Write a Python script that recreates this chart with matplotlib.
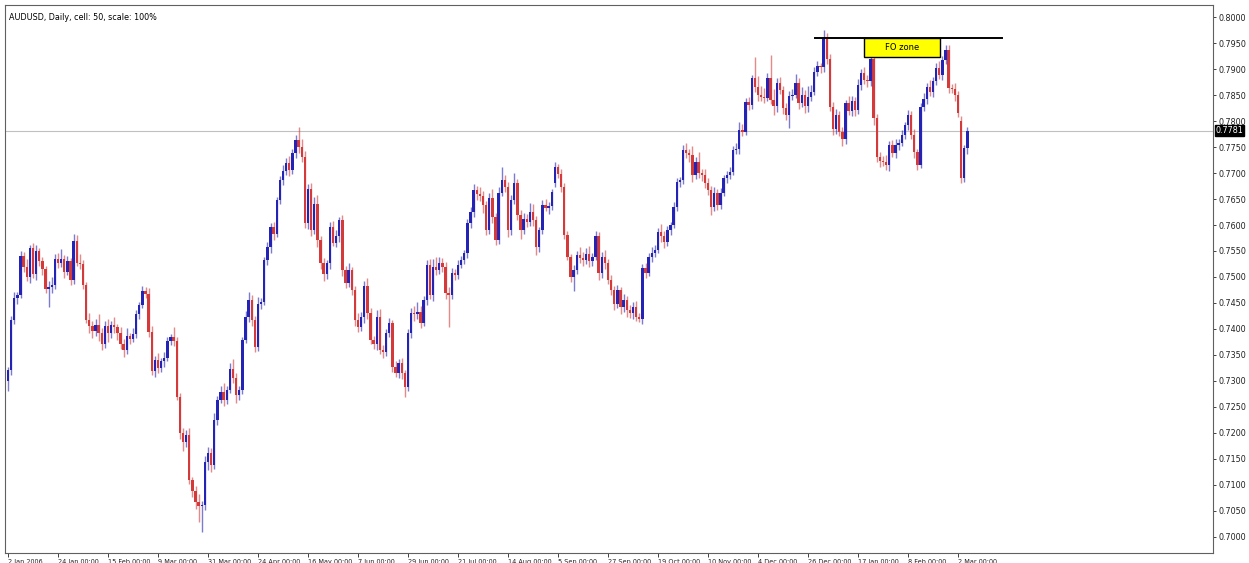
import numpy as np
import matplotlib
matplotlib.use("Agg")
import matplotlib.pyplot as plt
import matplotlib.transforms as mtransforms
from matplotlib.patches import Rectangle

# ---------------- data (AUDUSD daily, prices in pips x 1e-4) ----------------
closes = [
    7321, 7417, 7460, 7465, 7540, 7520, 7500, 7555, 7505, 7550, 7530, 7515, 7477, 7480, 7485, 7535,
    7527, 7535, 7510, 7530, 7495, 7570, 7527, 7525, 7485, 7417, 7405, 7397, 7408, 7393, 7372, 7406,
    7393, 7408, 7404, 7393, 7372, 7359, 7387, 7381, 7390, 7429, 7446, 7473, 7467, 7395, 7320, 7340,
    7325, 7338, 7345, 7377, 7385, 7377, 7270, 7200, 7183, 7197, 7110, 7088, 7068, 7059, 7062, 7145,
    7161, 7139, 7225, 7263, 7279, 7263, 7283, 7324, 7305, 7273, 7283, 7379, 7424, 7456, 7417, 7366,
    7449, 7452, 7532, 7557, 7596, 7583, 7648, 7687, 7703, 7719, 7706, 7738, 7763, 7750, 7731, 7603,
    7670, 7590, 7641, 7571, 7526, 7505, 7526, 7597, 7565, 7578, 7610, 7514, 7488, 7514, 7475, 7417,
    7404, 7424, 7482, 7430, 7379, 7372, 7424, 7359, 7355, 7392, 7411, 7327, 7315, 7334, 7315, 7289,
    7392, 7430, 7428, 7433, 7411, 7456, 7523, 7465, 7520, 7514, 7526, 7520, 7469, 7466, 7507, 7504,
    7523, 7533, 7546, 7603, 7625, 7667, 7660, 7655, 7638, 7590, 7651, 7616, 7571, 7661, 7687, 7674,
    7590, 7648, 7680, 7619, 7590, 7612, 7606, 7625, 7609, 7558, 7590, 7638, 7632, 7637, 7664, 7712,
    7699, 7674, 7581, 7539, 7500, 7513, 7542, 7536, 7533, 7545, 7530, 7539, 7578, 7507, 7539, 7526,
    7494, 7475, 7449, 7475, 7443, 7456, 7436, 7430, 7443, 7424, 7420, 7517, 7507, 7539, 7546, 7552,
    7587, 7578, 7568, 7591, 7600, 7635, 7683, 7686, 7744, 7738, 7734, 7696, 7721, 7700, 7696, 7680,
    7667, 7635, 7661, 7638, 7661, 7690, 7696, 7702, 7744, 7747, 7782, 7779, 7837, 7831, 7882, 7866,
    7850, 7847, 7844, 7882, 7840, 7828, 7873, 7860, 7825, 7811, 7849, 7850, 7873, 7834, 7850, 7828,
    7847, 7856, 7895, 7905, 7903, 7959, 7920, 7827, 7785, 7811, 7779, 7766, 7834, 7820, 7838, 7821,
    7870, 7892, 7879, 7876, 7920, 7805, 7731, 7724, 7722, 7715, 7753, 7739, 7753, 7757, 7773, 7792,
    7811, 7773, 7740, 7715, 7827, 7843, 7866, 7856, 7876, 7901, 7889, 7917, 7937, 7863, 7862, 7850,
    7815, 7690, 7748, 7781,
]
first_open = 7300
gap_opens = {175: 7680, 305: 7800}

# upper / lower wick beyond the body, in pips
hi_ext = [
    5, 8, 12, 6, 10, 8, 15, 6, 10, 12, 5, 8, 6, 12, 15, 10,
    12, 18, 8, 10, 6, 12, 10, 18, 8, 6, 14, 10, 12, 20, 8, 10,
    14, 8, 16, 6, 10, 8, 14, 6, 12, 8, 6, 10, 8, 12, 10, 8,
    14, 6, 10, 8, 6, 18, 8, 6, 10, 8, 12, 6, 10, 14, 8, 10,
    12, 10, 14, 8, 12, 18, 8, 10, 18, 10, 8, 6, 10, 16, 10, 8,
    12, 8, 6, 10, 8, 10, 6, 8, 12, 10, 14, 8, 10, 26, 16, 12,
    8, 10, 12, 16, 8, 10, 6, 8, 10, 12, 6, 10, 8, 12, 6, 8,
    14, 8, 10, 16, 10, 8, 12, 14, 10, 8, 10, 6, 12, 8, 10, 6,
    8, 10, 14, 18, 12, 8, 10, 12, 14, 18, 12, 10, 8, 12, 10, 8,
    10, 8, 6, 8, 10, 12, 8, 14, 10, 8, 10, 18, 8, 12, 25, 10,
    8, 10, 20, 8, 10, 12, 10, 18, 16, 8, 6, 10, 12, 8, 6, 10,
    6, 8, 6, 8, 6, 10, 8, 16, 12, 10, 14, 8, 10, 8, 10, 12,
    8, 10, 8, 10, 6, 12, 8, 10, 8, 10, 6, 8, 10, 8, 12, 10,
    8, 14, 10, 8, 6, 10, 8, 6, 10, 14, 8, 18, 10, 20, 8, 12,
    10, 8, 12, 8, 10, 6, 8, 10, 8, 10, 16, 12, 8, 10, 6, 42,
    20, 18, 16, 10, 45, 22, 10, 12, 8, 10, 8, 12, 18, 10, 16, 10,
    20, 14, 8, 10, 6, 16, 10, 8, 10, 12, 8, 10, 6, 14, 10, 8,
    10, 8, 12, 10, 8, 6, 8, 10, 8, 12, 8, 10, 12, 8, 10, 6,
    10, 8, 12, 6, 8, 10, 8, 12, 8, 10, 14, 8, 9, 10, 8, 12,
    8, 10, 6, 8,
]
lo_ext = [
    20, 10, 8, 12, 6, 10, 8, 12, 6, 10, 8, 12, 8, 35, 10, 8,
    10, 8, 12, 6, 10, 8, 6, 10, 8, 6, 12, 14, 10, 16, 12, 8,
    18, 10, 12, 14, 10, 12, 8, 10, 6, 8, 10, 6, 8, 10, 8, 12,
    10, 8, 12, 6, 8, 10, 6, 12, 18, 10, 8, 12, 14, 30, 49, 10,
    16, 14, 8, 10, 6, 12, 8, 6, 8, 16, 10, 8, 6, 10, 12, 10,
    8, 10, 6, 8, 10, 12, 6, 8, 10, 6, 12, 8, 10, 12, 10, 8,
    10, 12, 8, 14, 10, 12, 8, 10, 6, 8, 10, 12, 10, 8, 10, 12,
    10, 8, 12, 10, 8, 10, 12, 8, 10, 6, 8, 10, 8, 10, 12, 19,
    8, 10, 12, 8, 10, 6, 10, 8, 12, 10, 8, 10, 12, 62, 8, 10,
    8, 6, 8, 10, 8, 10, 12, 8, 14, 10, 8, 12, 10, 8, 6, 10,
    14, 10, 8, 10, 16, 8, 10, 8, 10, 16, 10, 8, 6, 10, 8, 6,
    8, 10, 8, 6, 10, 26, 8, 10, 12, 8, 10, 8, 6, 12, 8, 10,
    8, 10, 12, 8, 14, 10, 12, 8, 10, 8, 6, 10, 8, 6, 10, 8,
    6, 10, 12, 8, 10, 6, 8, 10, 8, 10, 12, 14, 8, 10, 12, 8,
    10, 16, 8, 10, 8, 6, 10, 8, 6, 8, 10, 8, 6, 10, 8, 10,
    12, 8, 10, 6, 8, 16, 10, 8, 12, 10, 25, 8, 6, 10, 8, 12,
    10, 8, 6, 8, 10, 8, 10, 8, 12, 10, 8, 14, 10, 8, 10, 12,
    8, 10, 8, 10, 8, 12, 10, 12, 8, 10, 12, 8, 10, 8, 6, 8,
    10, 8, 12, 10, 6, 8, 10, 8, 10, 6, 8, 10, 8, 10, 8, 12,
    8, 10, 8, 12,
]

date_labels = ["2 Jan 2006", "24 Jan 00:00", "15 Feb 00:00", "9 Mar 00:00", "31 Mar 00:00",
               "24 Apr 00:00", "16 May 00:00", "7 Jun 00:00", "29 Jun 00:00", "21 Jul 00:00",
               "14 Aug 00:00", "5 Sep 00:00", "27 Sep 00:00", "19 Oct 00:00", "10 Nov 00:00",
               "4 Dec 00:00", "26 Dec 00:00", "17 Jan 00:00", "8 Feb 00:00", "2 Mar 00:00"]
label_step = 16

last_price = 0.7781
fo_level = 0.7960
fo_box = (0.7923, 0.7960)

# ---------------- build OHLC ----------------
c = np.array(closes) / 1e4
o = np.concatenate([[first_open / 1e4], c[:-1]])
for k, v in gap_opens.items():
    o[k] = v / 1e4
h = np.maximum(o, c) + np.array(hi_ext) / 1e4
l = np.minimum(o, c) - np.array(lo_ext) / 1e4
x = np.arange(len(c))

up_col, dn_col = "#2323b5", "#d43a3a"
cols = [up_col if cc >= oo else dn_col for oo, cc in zip(o, c)]

# ---------------- figure ----------------
W, H = 1249, 563
fig = plt.figure(figsize=(W / 100, H / 100), dpi=100)
ax = fig.add_axes([5 / W, 10 / H, 1208 / W, 548 / H])

ax.vlines(x, l, h, colors=cols, linewidth=1.0, alpha=0.6)
body = np.abs(c - o)
body = np.where(body < 0.00012, 0.00012, body)
ax.bar(x, body, bottom=np.minimum(o, c), width=0.75, color=cols, linewidth=0)

ax.axhline(last_price, color="#c0c0c0", linewidth=0.8, zorder=0)

# FO zone annotation
ax.plot([258.2, 318], [fo_level, fo_level], color="black", linewidth=1.4)
ax.add_patch(Rectangle((274, fo_box[0]), 24.2, fo_box[1] - fo_box[0],
                       facecolor="#ffff00", edgecolor="black", linewidth=1.0, zorder=5))
ax.text(286.1, (fo_box[0] + fo_box[1]) / 2, "FO zone", ha="center", va="center",
        fontsize=6, zorder=6)

ax.set_xlim(-0.96, 385.6)
ax.set_ylim(0.69692, 0.80231)

yt = np.arange(0.7000, 0.80001, 0.005)
ax.yaxis.tick_right()
ax.set_yticks(yt)
ax.set_yticklabels([f"{v:.4f}" for v in yt])
ax.tick_params(axis="y", labelsize=5.8, length=2.5, width=0.6, pad=1.5, colors="#222222")

ticks = [i * label_step for i in range(len(date_labels))]
ax.set_xticks(ticks)
ax.set_xticklabels(date_labels, ha="left")
ax.tick_params(axis="x", labelsize=4.7, length=3, width=0.6, pad=1, colors="#222222")

for s in ax.spines.values():
    s.set_color("#606060")
    s.set_linewidth(0.8)

ax.text(0.003, 0.985, "AUDUSD, Daily, cell: 50, scale: 100%", transform=ax.transAxes,
        fontsize=5.8, va="top", ha="left")

trans = mtransforms.blended_transform_factory(ax.transAxes, ax.transData)
ax.text(1.0022, last_price, f"{last_price:.4f}", transform=trans, fontsize=5.8,
        color="white", va="center", ha="left",
        bbox=dict(boxstyle="square,pad=0.12", facecolor="black", edgecolor="black"))

fig.savefig("out.png", dpi=100)
